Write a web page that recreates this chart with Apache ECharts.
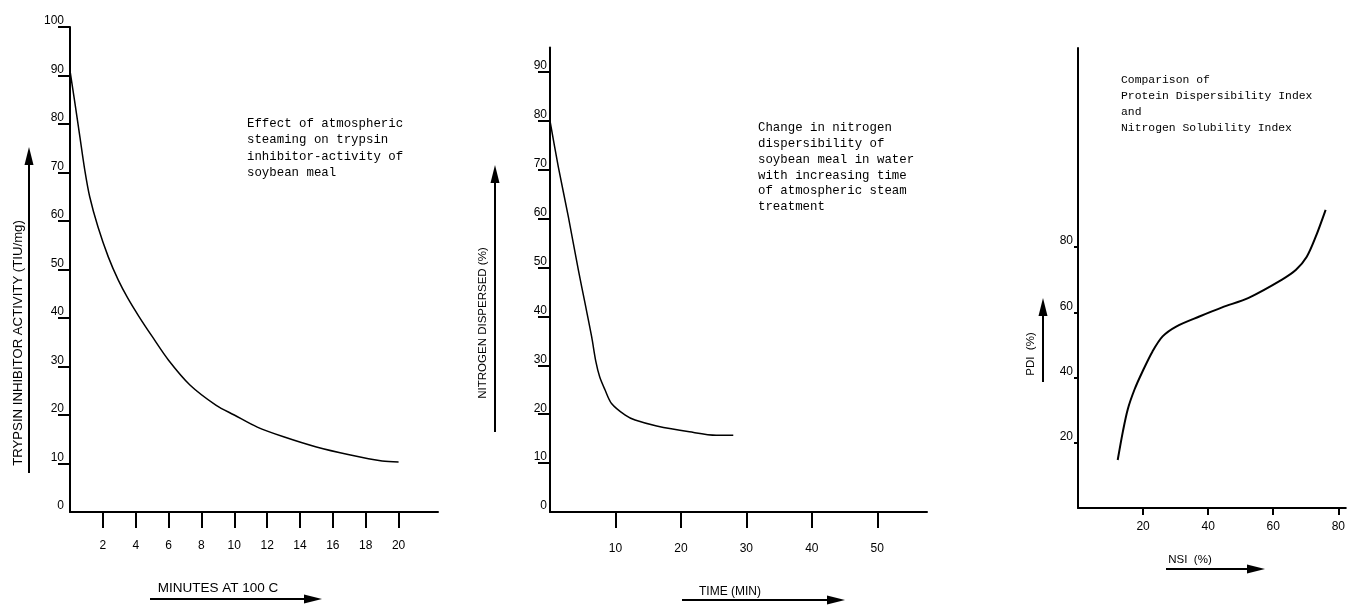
<!DOCTYPE html>
<html>
<head>
<meta charset="utf-8">
<script src="https://cdn.jsdelivr.net/npm/echarts@6/dist/echarts.min.js"></script>
<style>
html,body{margin:0;padding:0;background:#fff;}
#c{width:1348px;height:606px;}
</style>
</head>
<body>
<div id="c"></div>
<script>
// Panel 1: trypsin inhibitor activity vs minutes at 100 C
var trypsinData = [[0,91],[0.3,84.3],[0.6,77.4],[0.9,70.5],[1.2,65],[1.7,58.8],[2.33,52.6],[2.94,47.8],[3.5,44.2],[4.2,40.3],[5,36.2],[6,31.3],[7.3,26.2],[8.9,22],[10,20],[11.4,17.5],[13,15.5],[15,13.4],[17,11.8],[19,10.5],[20,10.3]];
var x1Ticks = [2,4,6,8,10,12,14,16,18,20];
var y1Ticks = [0,10,20,30,40,50,60,70,80,90,100];

// Panel 2: nitrogen dispersed vs time
var nitrogenData = [[0,80],[1.27,70.6],[2.8,60.4],[4.33,49.5],[5.35,42.7],[6.37,35.8],[7.0,30.8],[7.6,27.6],[8.4,25],[9.4,22.2],[11.5,19.8],[13,18.8],[16.3,17.6],[21.3,16.4],[25.4,15.7],[28,15.7]];
var x2Ticks = [10,20,30,40,50];
var y2Ticks = [0,10,20,30,40,50,60,70,80,90];

// Panel 3: PDI vs NSI
var pdiNsiData = [[12.2,14.7],[13.8,23.5],[15.3,30.3],[17.4,36.4],[19.9,42],[22.9,48],[26,52.6],[30.3,55.7],[37.3,58.7],[44.3,61.5],[52.6,64.5],[62.7,70],[67,73],[70.3,77],[73,83],[76.1,91.4]];
var x3Ticks = [20,40,60,80];
var y3Ticks = [20,40,60,80];

var note1 = "Effect of atmospheric\nsteaming on trypsin\ninhibitor-activity of\nsoybean meal";
var note2 = "Change in nitrogen\ndispersibility of\nsoybean meal in water\nwith increasing time\nof atmospheric steam\ntreatment";
var note3 = "Comparison of\nProtein Dispersibility Index\nand\nNitrogen Solubility Index";

var SANS = '"Liberation Sans", Arial, sans-serif';
var MONO = '"Liberation Mono", "DejaVu Sans Mono", monospace';

function nonZero(arr) { return arr.filter(function (v) { return v !== 0; }); }

function xAx(gi, max, ticks, tickLen, margin) {
  return {
    type: 'value', gridIndex: gi, min: 0, max: max,
    axisLine: {show: true, onZero: false, lineStyle: {color: '#000', width: 2}},
    axisTick: {show: true, inside: false, length: tickLen, lineStyle: {color: '#000', width: 2}, customValues: ticks},
    axisLabel: {show: true, color: '#000', fontFamily: SANS, fontSize: 12, margin: margin, customValues: ticks},
    splitLine: {show: false}
  };
}
function yAx(gi, max, ticks, tickLen, margin, vAlign, lh) {
  return {
    type: 'value', gridIndex: gi, min: 0, max: max,
    axisLine: {show: true, onZero: false, lineStyle: {color: '#000', width: 2}},
    axisTick: {show: true, inside: false, length: tickLen, lineStyle: {color: '#000', width: 2}, customValues: nonZero(ticks)},
    axisLabel: {show: true, color: '#000', fontFamily: SANS, fontSize: 12, margin: margin, verticalAlign: vAlign, lineHeight: lh, customValues: ticks},
    splitLine: {show: false}
  };
}

function hArrow(x1, x2, y) {
  return [
    {type: 'line', shape: {x1: x1, y1: y, x2: x2 - 12, y2: y}, style: {stroke: '#000', lineWidth: 2}},
    {type: 'polygon', shape: {points: [[x2, y], [x2 - 18, y - 4.5], [x2 - 18, y + 4.5]]}, style: {fill: '#000'}}
  ];
}
function vArrow(x, y1, y2) {
  return [
    {type: 'line', shape: {x1: x, y1: y1, x2: x, y2: y2 + 12}, style: {stroke: '#000', lineWidth: 2}},
    {type: 'polygon', shape: {points: [[x, y2], [x - 4.5, y2 + 18], [x + 4.5, y2 + 18]]}, style: {fill: '#000'}}
  ];
}
function txt(x, y, s, font, size, lh, align, vAlign, rot) {
  return {type: 'text', x: x, y: y, rotation: rot || 0,
    style: {text: s, fill: '#000', font: size + 'px ' + font, lineHeight: lh, align: align, verticalAlign: vAlign}};
}

var graphics = [].concat(
  hArrow(150, 322, 599), vArrow(29, 473, 147),
  hArrow(682, 845, 600), vArrow(495, 432, 165),
  hArrow(1166, 1265, 569), vArrow(1043, 382, 298),
  [
    txt(218, 588, 'MINUTES AT 100 C', SANS, 13.5, 15, 'center', 'middle'),
    txt(18, 343, 'TRYPSIN INHIBITOR ACTIVITY (TIU/mg)', SANS, 13.2, 15, 'center', 'middle', Math.PI / 2),
    txt(730, 592, 'TIME (MIN)', SANS, 12, 13, 'center', 'middle'),
    txt(483, 323, 'NITROGEN DISPERSED (%)', SANS, 11.5, 13, 'center', 'middle', Math.PI / 2),
    txt(1190, 560, 'NSI  (%)', SANS, 11.5, 13, 'center', 'middle'),
    txt(1031, 354, 'PDI  (%)', SANS, 11.5, 13, 'center', 'middle', Math.PI / 2),
    txt(247, 115, note1, MONO, 12.4, 16.5, 'left', 'top'),
    txt(758, 120, note2, MONO, 12.4, 15.8, 'left', 'top'),
    txt(1121, 72, note3, MONO, 11.4, 16, 'left', 'top')
  ]
);

var option = {
  backgroundColor: '#fff',
  animation: false,
  grid: [
    {left: 70, top: 27, width: 368, height: 485},
    {left: 550, top: 47.5, width: 377, height: 464.5},
    {left: 1078, top: 48, width: 270, height: 460}
  ],
  xAxis: [
    xAx(0, 22.4, x1Ticks, 16, 28),
    xAx(1, 57.6, x2Ticks, 16, 31),
    xAx(2, 82.3, x3Ticks, 7, 13)
  ],
  yAxis: [
    yAx(0, 100, y1Ticks, 12, 6, 'bottom', 12),
    yAx(1, 95, y2Ticks, 12, 3, 'bottom', 12),
    yAx(2, 141, y3Ticks, 4, 5, 'bottom', 12)
  ],
  series: [
    {type: 'line', xAxisIndex: 0, yAxisIndex: 0, data: trypsinData, smooth: 0.3, showSymbol: false, lineStyle: {color: '#000', width: 1.5}},
    {type: 'line', xAxisIndex: 1, yAxisIndex: 1, data: nitrogenData, smooth: 0.3, showSymbol: false, lineStyle: {color: '#000', width: 1.5}},
    {type: 'line', xAxisIndex: 2, yAxisIndex: 2, data: pdiNsiData, smooth: 0.3, showSymbol: false, lineStyle: {color: '#000', width: 2}}
  ],
  graphic: graphics
};

var chart = echarts.init(document.getElementById('c'), null, {renderer: 'canvas'});
chart.setOption(option);
</script>
</body>
</html>
